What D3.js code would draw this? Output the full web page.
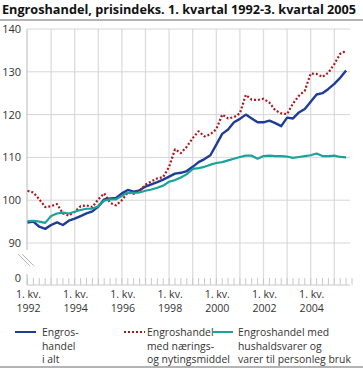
<!DOCTYPE html>
<html>
<head>
<meta charset="utf-8">
<script src="https://cdn.jsdelivr.net/npm/d3@7"></script>
<style>
  body { margin: 0; background: #fff; }
  svg { display: block; font-family: "Open Sans", "DejaVu Sans", sans-serif; }
</style>
</head>
<body>
<svg id="chart" width="363" height="368"></svg>
<script>
// kvartal 1992K1 - 2005K3
var startYear = 1992;
var quarterCount = 55;

var yTicks = [90, 100, 110, 120, 130, 140];
var yearLabels = [1992, 1994, 1996, 1998, 2000, 2002, 2004];

var iAlt = [94.8, 95.0, 93.8, 93.3, 94.2, 94.8, 94.2, 95.2, 95.7, 96.3, 96.9, 97.4,
  98.5, 100.2, 100.4, 100.5, 101.6, 102.4, 102.0, 102.3, 103.2, 103.7, 104.2, 104.8,
  105.5, 106.2, 106.4, 106.8, 107.8, 108.9, 109.6, 110.5, 113.0, 115.5, 116.5, 118.2,
  119.0, 120.0, 119.1, 118.2, 118.2, 118.6, 118.0, 117.3, 119.3, 119.1, 120.5, 121.3,
  123.0, 124.7, 125.0, 126.0, 127.2, 128.6, 130.3];

var naering = [102.2, 101.8, 100.2, 98.4, 98.6, 99.1, 96.9, 96.4, 97.3, 98.6, 98.8, 98.4,
  100.2, 101.6, 99.4, 98.8, 100.0, 101.8, 101.5, 102.2, 103.6, 104.4, 105.1, 105.4,
  107.8, 111.9, 111.0, 112.5, 114.5, 116.1, 114.9, 115.4, 116.6, 120.0, 119.1, 119.4,
  120.3, 124.6, 123.5, 123.4, 123.7, 122.8, 121.0, 120.3, 120.1, 122.6, 124.4, 125.6,
  129.6, 129.5, 128.8, 129.8, 131.8, 134.2, 134.9];

var hushald = [95.1, 95.2, 95.0, 94.7, 96.3, 96.9, 97.1, 96.9, 97.3, 97.7, 98.0, 98.0,
  98.6, 99.9, 100.2, 100.2, 101.0, 101.8, 101.7, 101.8, 102.2, 102.5, 102.9, 103.4,
  104.3, 104.7, 105.3, 106.1, 107.3, 107.5, 107.8, 108.3, 108.7, 108.9, 109.3, 109.7,
  110.1, 110.4, 110.4, 109.7, 110.3, 110.4, 110.3, 110.3, 110.2, 109.9, 110.1, 110.3,
  110.5, 110.9, 110.3, 110.3, 110.4, 110.1, 110.0];

var series = [
  { name: ['Engros-', 'handel', 'i alt'], values: iAlt, color: '#1f3c96', width: 2.4, dash: null, lx: 15, tx: 42 },
  { name: ['Engroshandel', 'med nærings-', 'og nytingsmiddel'], values: naering, color: '#a8191e', width: 2.2, dash: '2,2', lx: 124, tx: 147 },
  { name: ['Engroshandel med', 'hushaldsvarer og', 'varer til personleg bruk'], values: hushald, color: '#1aa39b', width: 2.2, dash: null, lx: 212, tx: 238 }
];

var svg = d3.select('#chart');

var x = d3.scaleLinear().domain([1992, 2005.5]).range([27.5, 346.1]);
var y = d3.scaleLinear().domain([90, 140]).range([243, 29]);
var baseY = 285;
var gridRight = 350;

// title
svg.append('text')
  .attr('x', 2).attr('y', 14)
  .attr('font-size', '12.7px').attr('font-weight', 'bold').attr('fill', '#111')
  .text('Engroshandel, prisindeks. 1. kvartal 1992-3. kvartal 2005');
svg.append('rect').attr('x', 0).attr('y', 19).attr('width', 363).attr('height', 2).attr('fill', '#b4b4b4');

// vertical grid, one per year
var years = d3.range(1993, 2006);
svg.selectAll('.vgrid').data(years).enter().append('line')
  .attr('x1', function(d) { return x(d); }).attr('x2', function(d) { return x(d); })
  .attr('y1', y(140)).attr('y2', baseY)
  .attr('stroke', '#dcdcdc').attr('stroke-width', 1.3);

// horizontal grid
svg.selectAll('.hgrid').data(yTicks).enter().append('line')
  .attr('x1', 27).attr('x2', gridRight)
  .attr('y1', function(d) { return y(d); }).attr('y2', function(d) { return y(d); })
  .attr('stroke', '#d6d6d6').attr('stroke-width', 1);

// y labels
svg.selectAll('.ylab').data(yTicks).enter().append('text')
  .attr('x', 21).attr('y', function(d) { return y(d) + 4; })
  .attr('text-anchor', 'end').attr('font-size', '11px').attr('fill', '#333')
  .text(function(d) { return d; });
svg.append('text').attr('x', 21).attr('y', baseY - 3)
  .attr('text-anchor', 'end').attr('font-size', '11px').attr('fill', '#333').text('0');

// left axis with break
svg.append('line').attr('x1', 27).attr('x2', 27).attr('y1', y(140)).attr('y2', 250)
  .attr('stroke', '#b8b8b8').attr('stroke-width', 1);
svg.append('line').attr('x1', 27).attr('x2', 27).attr('y1', 274).attr('y2', baseY)
  .attr('stroke', '#b8b8b8').attr('stroke-width', 1);
[0, 4].forEach(function(o) {
  svg.append('line')
    .attr('x1', 18 + o).attr('y1', 254).attr('x2', 30 + o).attr('y2', 266)
    .attr('stroke', '#b8b8b8').attr('stroke-width', 1);
});

// quarter ticks and baseline
var quarters = d3.range(quarterCount + 1).map(function(i) { return startYear + i / 4; });
svg.selectAll('.qtick').data(quarters).enter().append('line')
  .attr('x1', function(d) { return x(d); }).attr('x2', function(d) { return x(d); })
  .attr('y1', baseY - 7).attr('y2', baseY)
  .attr('stroke', '#c8c8c8').attr('stroke-width', 1);
svg.append('line').attr('x1', 27).attr('x2', gridRight).attr('y1', baseY).attr('y2', baseY)
  .attr('stroke', '#c8c8c8').attr('stroke-width', 1);

// x labels, two lines each
yearLabels.forEach(function(d) {
  svg.append('text').attr('x', x(d) + 1).attr('y', 298)
    .attr('text-anchor', 'middle').attr('font-size', '10.6px').attr('fill', '#333')
    .text('1. kv.');
  svg.append('text').attr('x', x(d) + 1).attr('y', 312)
    .attr('text-anchor', 'middle').attr('font-size', '10.6px').attr('fill', '#333')
    .text(d);
});

// lines
var line = d3.line()
  .x(function(d, i) { return x(startYear + i / 4); })
  .y(function(d) { return y(d); });

series.forEach(function(s) {
  svg.append('path').datum(s.values)
    .attr('d', line)
    .attr('fill', 'none')
    .attr('stroke', s.color)
    .attr('stroke-width', s.width)
    .attr('stroke-linejoin', 'round')
    .attr('stroke-dasharray', s.dash);
});

// legend
series.forEach(function(s) {
  svg.append('line')
    .attr('x1', s.lx).attr('x2', s.lx + 21).attr('y1', 332).attr('y2', 332)
    .attr('stroke', s.color).attr('stroke-width', 2).attr('stroke-dasharray', s.dash);
  s.name.forEach(function(n, k) {
    svg.append('text').attr('x', s.tx).attr('y', 336 + k * 13.5)
      .attr('font-size', '10.4px').attr('fill', '#333').text(n);
  });
});
svg.append('rect').attr('x', 0).attr('y', 366).attr('width', 363).attr('height', 2).attr('fill', '#b4b4b4');
</script>
</body>
</html>
